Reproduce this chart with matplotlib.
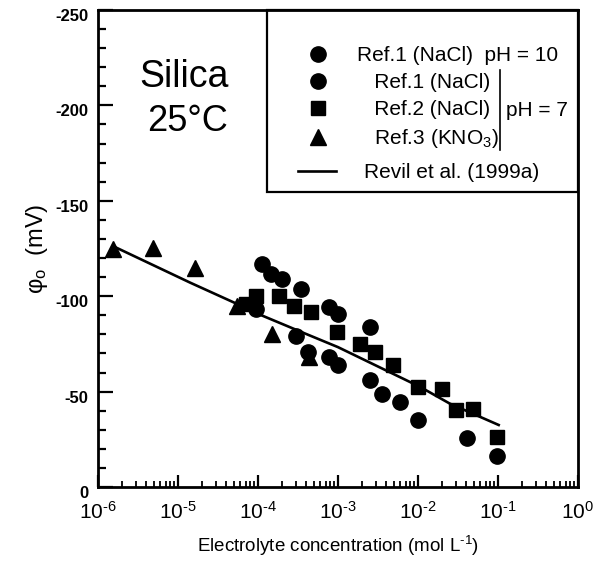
import matplotlib
matplotlib.use("Agg")
import matplotlib.pyplot as plt
import matplotlib.ticker as mticker
import matplotlib.transforms as mtransforms
import numpy as np
from matplotlib.lines import Line2D
from matplotlib.patches import Rectangle

plt.rcParams['font.family'] = ['Liberation Sans', 'DejaVu Sans']
plt.rcParams['mathtext.fontset'] = 'custom'
plt.rcParams['mathtext.rm'] = 'Liberation Sans'
plt.rcParams['mathtext.it'] = 'Liberation Sans:italic'
plt.rcParams['mathtext.bf'] = 'Liberation Sans:bold'
plt.rcParams['axes.unicode_minus'] = False

# ---- data (concentration in mol/L, surface potential in mV) ----
ref1_ph10_conc = [1.13e-4, 1.44e-4, 2.02e-4, 3.44e-4, 7.8e-4, 1.0e-3, 2.5e-3]
ref1_ph10_phi = [-116.7, -111.5, -108.8, -103.6, -94.1, -90.6, -83.7]

ref1_ph7_conc = [9.4e-5, 3.0e-4, 4.2e-4, 7.8e-4, 1.0e-3, 2.5e-3, 3.5e-3,
                 5.9e-3, 1.0e-2, 4.1e-2, 9.8e-2]
ref1_ph7_phi = [-93.2, -79.3, -70.7, -68.1, -63.7, -55.9, -49.0,
                -44.6, -35.1, -25.5, -16.0]

ref2_conc = [7.0e-5, 9.4e-5, 1.84e-4, 2.84e-4, 4.6e-4, 9.7e-4, 1.86e-3,
             2.87e-3, 4.9e-3, 1.01e-2, 1.99e-2, 3.0e-2, 4.9e-2, 9.8e-2]
ref2_phi = [-95.8, -100.2, -100.2, -95.0, -91.5, -81.1, -75.0,
            -70.7, -63.7, -52.4, -51.6, -40.3, -41.1, -26.4]

ref3_conc = [1.55e-6, 4.9e-6, 1.64e-5, 5.5e-5, 1.51e-4, 4.4e-4]
ref3_phi = [-124.5, -125.0, -114.9, -95.0, -80.2, -68.1]

model_conc = [1.55e-6, 1.42e-5, 5.0e-5, 1.02e-4, 4.0e-4, 1.0e-3,
              1.07e-2, 2.5e-2, 1.02e-1]
model_phi = [-126.2, -107.1, -96.7, -90.6, -80.2, -73.3, -52.4, -43.7, -32.5]

labels = ['Ref.1 (NaCl)  pH = 10', '   Ref.1 (NaCl)', '   Ref.2 (NaCl)',
          r'   Ref.3 (KNO$_3$)', 'Revil et al. (1999a)']

fig = plt.figure(figsize=(6.08, 5.66), dpi=100)
ax = fig.add_axes([98 / 608, 1 - 487 / 566, 480 / 608, 477 / 566])

ax.plot(model_conc, model_phi, color='black', lw=1.9, zorder=2)
h1, = ax.plot(ref1_ph10_conc, ref1_ph10_phi, 'o', color='black', ms=11, ls='none', zorder=3)
h2, = ax.plot(ref1_ph7_conc, ref1_ph7_phi, 'o', color='black', ms=11, ls='none', zorder=3)
h3, = ax.plot(ref2_conc, ref2_phi, 's', color='black', ms=10, ls='none', zorder=3)
h4, = ax.plot(ref3_conc, ref3_phi, '^', color='black', ms=11, ls='none', zorder=3)

ax.set_xscale('log')
ax.set_xlim(1e-6, 1)
ax.set_ylim(0, -250)

ax.yaxis.set_major_locator(mticker.MultipleLocator(50))
ax.yaxis.set_minor_locator(mticker.MultipleLocator(10))
ax.xaxis.set_major_locator(mticker.LogLocator(base=10, numticks=10))
ax.xaxis.set_minor_locator(mticker.LogLocator(base=10, subs=range(2, 10), numticks=20))
ax.xaxis.set_minor_formatter(mticker.NullFormatter())


def xfmt(v, pos):
    n = int(round(np.log10(v)))
    if n < 0:
        return r'$10^{\text{-%d}}$' % (-n)
    return r'$10^{%d}$' % n


ax.xaxis.set_major_formatter(mticker.FuncFormatter(xfmt))

for s in ax.spines.values():
    s.set_linewidth(2.0)

ax.tick_params(axis='y', which='major', direction='in', length=11, width=1.6,
               labelsize=12, pad=7, right=False)
ax.tick_params(axis='y', which='minor', direction='in', length=6, width=1.6, right=False)
ax.tick_params(axis='x', which='major', direction='in', length=9, width=1.6,
               labelsize=15, pad=10, top=False)
ax.tick_params(axis='x', which='minor', direction='in', length=4, width=1.3, top=False)

for lab in ax.get_yticklabels():
    lab.set_fontweight('bold')
offset = mtransforms.ScaledTranslation(0, -5 / 100, fig.dpi_scale_trans)
for lab in ax.yaxis.get_majorticklabels():
    lab.set_transform(lab.get_transform() + offset)

ax.set_ylabel('φ$_\\mathrm{o}$  (mV)', fontsize=17, labelpad=4)
ax.set_xlabel(r'Electrolyte concentration (mol L$^{\text{-1}}$)', fontsize=13.5, labelpad=8)

ax.text(0.18, 0.86, 'Silica', transform=ax.transAxes, fontsize=27,
        ha='center', va='center')
ax.text(0.187, 0.767, '25°C', transform=ax.transAxes, fontsize=26,
        ha='center', va='center')

# legend frame
ax.add_patch(Rectangle((0.352, 0.618), 0.648, 0.382, transform=ax.transAxes,
                       fill=False, lw=1.6, ec='black', zorder=5, clip_on=False))

leg1 = ax.legend([h1, h2, h3, h4], labels[:4], loc='upper left',
                 bbox_to_anchor=(0.42, 0.924), frameon=False, fontsize=15,
                 handlelength=1.8, handletextpad=0.95, labelspacing=0.38,
                 borderpad=0, borderaxespad=0)
ax.add_artist(leg1)
line_handle = Line2D([], [], color='black', lw=1.9)
leg2 = ax.legend([line_handle], labels[4:], loc='upper left',
                 bbox_to_anchor=(0.417, 0.679), frameon=False, fontsize=15,
                 handlelength=1.8, handletextpad=1.35, borderpad=0, borderaxespad=0)

ax.plot([0.8375, 0.8375], [0.707, 0.875], transform=ax.transAxes,
        color='black', lw=1.2, zorder=6)
ax.text(0.85, 0.79, 'pH = 7', transform=ax.transAxes, fontsize=15,
        ha='left', va='center')

fig.savefig('out.png', dpi=100)
